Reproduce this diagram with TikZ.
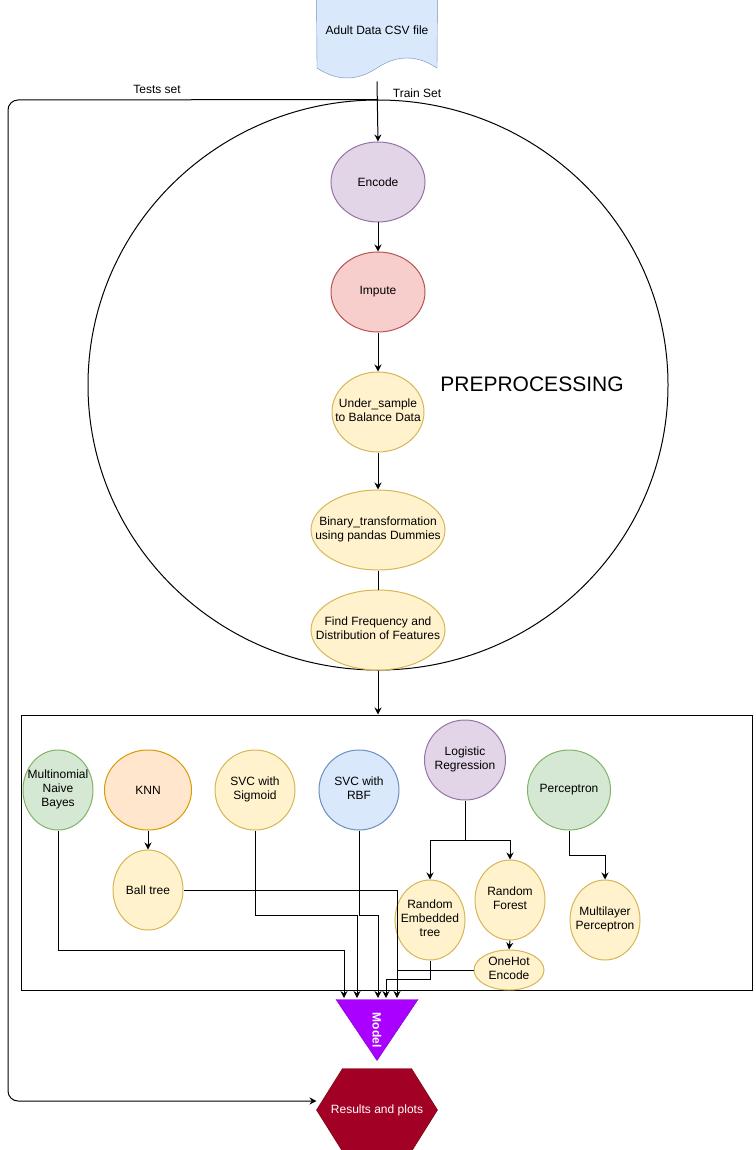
\documentclass[tikz,border=0pt]{standalone}
\usepackage{fontspec}
\setmainfont{Liberation Sans}
\usetikzlibrary{arrows.meta,shapes.geometric,backgrounds,calc}
\definecolor{bluef}{HTML}{DAE8FC}\definecolor{blued}{HTML}{6C8EBF}
\definecolor{purf}{HTML}{E1D5E7}\definecolor{purd}{HTML}{9673A6}
\definecolor{redf}{HTML}{F8CECC}\definecolor{redd}{HTML}{B85450}
\definecolor{yelf}{HTML}{FFF2CC}\definecolor{yeld}{HTML}{D6B656}
\definecolor{grnf}{HTML}{D5E8D4}\definecolor{grnd}{HTML}{82B366}
\definecolor{orgf}{HTML}{FFE6CC}\definecolor{orgd}{HTML}{D79B00}
\definecolor{modf}{HTML}{AA00FF}\definecolor{modd}{HTML}{7700CC}
\definecolor{resf}{HTML}{A20025}\definecolor{resd}{HTML}{6F0000}
\newcommand{\mytxt}[1]{\makebox[0pt]{\begin{tabular}{@{}c@{}}#1\end{tabular}}}
\begin{document}
\begin{tikzpicture}[x=1pt,y=-1pt,line width=1pt,
  font=\fontsize{12}{14}\selectfont,
  arr/.style={-{Stealth[length=7pt,width=7pt]}},
  ell/.style={ellipse,draw,inner sep=0pt,minimum width=#1,minimum height=80pt},
  ell/.default=80pt,
  purple/.style={fill=purf,draw=purd},
  redish/.style={fill=redf,draw=redd},
  yellow/.style={fill=yelf,draw=yeld},
  green/.style={fill=grnf,draw=grnd},
  orange/.style={fill=orgf,draw=orgd},
  bluish/.style={fill=bluef,draw=blued},
  plain/.style={inner sep=0pt}]
\useasboundingbox (0,0) rectangle (755,1150);

% source document
\node[plain,minimum width=120pt,minimum height=76pt] (csv) at (377,30) {Adult Data CSV file};
\begin{scope}[on background layer]
\draw[fill=bluef,draw=blued] (csv.north west) -- (csv.north east) -- (437,68)
  .. controls (417,54.7) and (397,54.7) .. (377,68)
  .. controls (357,81.3) and (337,81.3) .. (317,68) -- cycle;
\end{scope}

% preprocessing circle
\node[ellipse,draw,inner sep=0pt,minimum width=580pt,minimum height=570pt] (big) at (378,385) {};
\node[plain,font=\fontsize{21}{24}\selectfont] (pre) at (532,384) {PREPROCESSING};

\node[ell=94pt,purple] (enc) at (378,182) {Encode};
\node[ell=94pt,redish] (imp) at (378,292) {Impute};
\node[ell=92pt,yellow] (und) at (378,412) {\mytxt{Under\_sample\\to Balance Data}};
\node[ell=134pt,yellow] (bin) at (378,530) {\mytxt{Binary\_transformation\\using pandas Dummies}};
\node[ell=134pt,yellow] (ffd) at (378,630) {\mytxt{Find Frequency and\\Distribution of Features}};

\node[plain] (tests) at (157,89) {Tests set};
\node[plain] (train) at (417,93) {Train Set};

% models box
\node[draw,inner sep=0pt,minimum width=731pt,minimum height=275pt] (box) at (386.5,852.5) {};

\node[ell=70pt,green] (mnb) at (58,790) {\mytxt{Multinomial\\Naive\\Bayes}};
\node[ell=87pt,orange] (knn) at (148,790) {KNN};
\node[ell=80pt,yellow] (sig) at (255,790) {\mytxt{SVC with\\Sigmoid}};
\node[ell=80pt,bluish] (rbf) at (359,790) {\mytxt{SVC with\\RBF}};
\node[ell=81pt,purple] (lr) at (465,760) {\mytxt{Logistic\\Regression}};
\node[ell=70pt,green] (per) at (569,790) {Perceptron};
\node[ell=70pt,yellow] (ball) at (148,890) {Ball tree};
\node[ell=70pt,yellow] (ret) at (430,920) {\mytxt{Random\\Embedded\\tree}};
\node[ell=70pt,yellow] (rf) at (510,900) {\mytxt{Random\\Forest}};
\node[ellipse,draw,inner sep=0pt,minimum width=70pt,minimum height=40pt,yellow] (ohe) at (509,970) {\mytxt{OneHot\\Encode}};
\node[ell=70pt,yellow] (mlp) at (605,920) {\mytxt{Multilayer\\Perceptron}};

% model triangle
\node[plain,minimum width=81pt,minimum height=60pt,text=white] (model) at (377,1030) {\rotatebox{-90}{\bfseries Model}};
\begin{scope}[on background layer]
\draw[fill=modf,draw=modd] (model.north west) -- (model.north east) -- (model.south) -- cycle;
\end{scope}

% results hexagon
\node[plain,minimum width=120pt,minimum height=82pt,text=white] (res) at (377,1110) {Results and plots};
\begin{scope}[on background layer]
\draw[fill=resf,draw=resd] (res.west) -- ([xshift=26pt]res.north west) -- ([xshift=-26pt]res.north east)
  -- (res.east) -- ([xshift=-26pt]res.south east) -- ([xshift=26pt]res.south west) -- cycle;
\end{scope}

\coordinate (m1) at (344,998);
\coordinate (m2) at (357,998);
\coordinate (m3) at (378,998);
\coordinate (m4) at (386,998);
\coordinate (m5) at (397,998);
\coordinate (tl) at (8,100);
\coordinate (bl) at (8,1101);

% connectors
\draw[arr] ([yshift=-13pt]csv.south) -- (enc.north);
\draw[arr,rounded corners=10pt] (big.north) -- (tl) -- (bl) -- (bl -| res.west);
\draw[arr] (enc.south) -- (imp.north);
\draw[arr] (imp.south) -- (und.north);
\draw[arr] (und.south) -- (bin.north);
\draw (bin.south) -- (ffd.north);
\draw[arr] (ffd.south) -- (ffd.south |- box.north);
\draw[arr] (knn.south) -- (ball.north);
\draw[arr] (lr.south) -- ++(0,40) -| (ret.north);
\draw[arr] (lr.south) -- ++(0,40) -| (rf.north);
\draw[arr] (per.south) -- ++(0,25) -| (mlp.north);
\draw[arr] (rf.south) -- (ohe.north);
\draw[arr] (mnb.south) -- ++(0,120) -| (m1);
\draw[arr] (sig.south) -- ++(0,85) -| (m2);
\draw[arr] (rbf.south) -- ++(0,85) -| (m3);
\draw[arr] (ret.south) -- ++(0,19) -| (m4);
\draw[arr] (ball.east) -| (m5);
\draw (ohe.west) -- (ohe.west -| m5);
\end{tikzpicture}
\end{document}
